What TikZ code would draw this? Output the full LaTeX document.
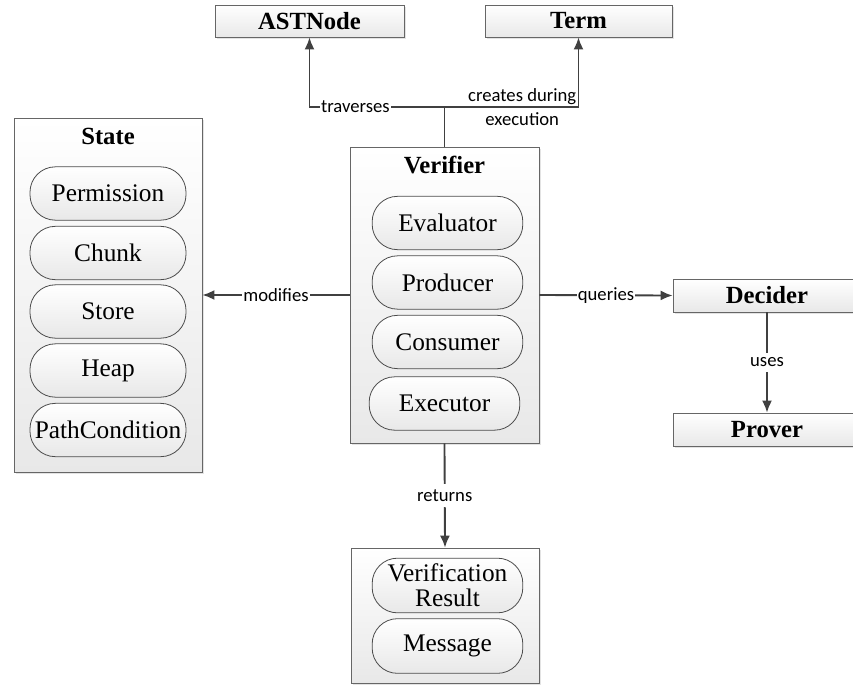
\documentclass[tikz,border=0pt]{standalone}
\usepackage{fontspec}
\setmainfont{Liberation Serif}
\newfontfamily\labelfont{Carlito}
\usetikzlibrary{arrows.meta,shadows}

\tikzset{
  box/.style={rectangle,draw=black!60,line width=0.6pt,top color=white,bottom color=black!9,
    drop shadow={shadow xshift=1.6pt,shadow yshift=-1.6pt,fill=black!22},
    inner sep=0pt,font=\fontsize{18.5}{20}\selectfont\bfseries},
  holder/.style={box},
  title/.style={font=\fontsize{18.5}{20}\selectfont\bfseries,inner sep=0pt},
  pill/.style={rectangle,draw=black!70,line width=0.6pt,rounded corners=19pt,top color=white,
    bottom color=black!9,minimum width=113pt,minimum height=40pt,inner sep=0pt,
    align=center,font=\fontsize{19}{18.5}\selectfont},
  link/.style={draw=black!75,line width=1.4pt},
  arr/.style={link,-{Latex[length=9pt,width=7.5pt]}},
  lbl/.style={font=\labelfont\fontsize{14}{15}\selectfont,fill=white,inner sep=1pt},
}

\begin{document}
\begin{tikzpicture}[x=0.75pt,y=-0.75pt]
    \useasboundingbox (0,0) rectangle (853,686);

    % Top boxes
    \node[box,minimum width=141.75pt,minimum height=24pt] (astnode) at (309.5,21) {ASTNode};
    \node[box,minimum width=140.25pt,minimum height=24pt] (term) at (578.5,21) {Term};

    % State
    \node[holder,minimum width=141pt,minimum height=265.5pt] (state) at (108,295) {};
    \node[title] (statetitle) at (108,136) {State};
    \node[pill,minimum width=117pt] (perm) at (108,193.5) {Permission};
    \node[pill,minimum width=117pt] (chunk) at (108,253) {Chunk};
    \node[pill,minimum width=117pt] (store) at (108,311.5) {Store};
    \node[pill,minimum width=117pt] (heap) at (108,370.5) {Heap};
    \node[pill,minimum width=117pt] (pathcond) at (108,430) {PathCondition};

    % Verifier
    \node[holder,minimum width=141.75pt,minimum height=222pt] (verifier) at (444.5,295) {};
    \node[title] (verifiertitle) at (444.5,165) {Verifier};
    \node[pill] (eval) at (447.5,223) {Evaluator};
    \node[pill] (prod) at (447.5,282.5) {Producer};
    \node[pill] (cons) at (447.5,342) {Consumer};
    \node[pill] (exec) at (444.5,403.5) {Executor};

    % Result
    \node[holder,minimum width=141pt,minimum height=101.25pt] (result) at (445,615.5) {};
    \node[pill,minimum height=41pt] (verres) at (447.5,585.5) {Verification\\Result};
    \node[pill,minimum height=41pt] (message) at (447.5,646) {Message};

    % Decider and Prover
    \node[box,minimum width=141pt,minimum height=24.75pt] (decider) at (767,295.5) {Decider};
    \node[box,minimum width=141pt,minimum height=24.75pt] (prover) at (767,429.5) {Prover};

    % Connectors
    \coordinate (split) at (444.5,107);
    \draw[link] (verifier.north) -- (split);
    \draw[arr] (split) -| node[lbl,pos=0.33] {traverses} (astnode.south);
    \draw[arr] (split) -| node[pos=0.29,align=center,inner sep=0pt,
        font=\labelfont\fontsize{14}{17.5}\selectfont] {creates during\\execution} (term.south);
    \draw[arr] (verifier.west) -- node[lbl] {modifies} (state.east);
    \draw[arr] (verifier.east) -- node[lbl] {queries} (decider.west);
    \draw[arr] (decider.south) -- node[lbl,inner sep=4pt] {uses} (prover.north);
    \draw[arr] (verifier.south) -- node[lbl,inner sep=4pt] {returns} (result.north);
\end{tikzpicture}
\end{document}
